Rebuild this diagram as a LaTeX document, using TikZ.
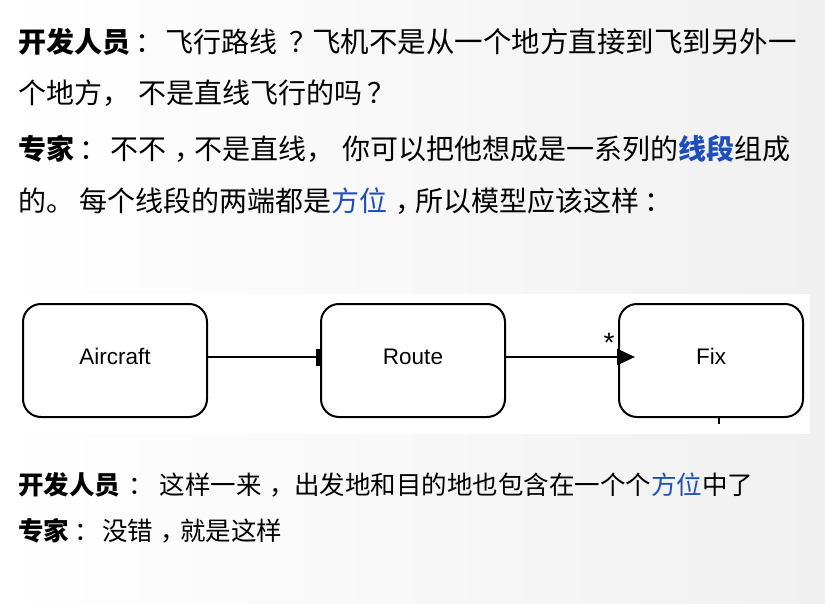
\documentclass[tikz,border=0pt]{standalone}
\usepackage{fontspec}
\setmainfont{Noto Sans CJK SC}
\newfontfamily\arialfont{Liberation Sans}
\usetikzlibrary{arrows.meta}
\definecolor{keyblue}{RGB}{30,78,190}
\definecolor{bgright}{RGB}{240,240,240}
\newcommand\ccolon{\makebox[1em][l]{\hspace{0.2em}：}}
\newcommand\ccomma{\makebox[1em][l]{\hspace{0.3em}，}}
\newcommand\cquest{\makebox[1em][l]{\hspace{0.2em}？}}
\tikzset{
  txt/.style={anchor=base west, inner sep=0pt, font=\fontsize{28}{28}\selectfont},
  txtsmall/.style={anchor=base west, inner sep=0pt, font=\fontsize{25.5}{25.5}\selectfont},
  umlbox/.style={draw=black, line width=2pt, rounded corners=18pt, fill=white,
    minimum width=184pt, minimum height=113pt, inner sep=0pt,
    text height=7pt, text depth=0pt, font=\arialfont\fontsize{22.5}{22.5}\selectfont},
  conn/.style={line width=2.6pt}
}
\begin{document}
\begin{tikzpicture}[x=1pt,y=-1pt]
\useasboundingbox (0,0) rectangle (825,604);
\shade[left color=white, right color=bgright] (0,0) rectangle (825,604);
\fill[white] (10,294) rectangle (810,434);

\node[txt] (l1) at (18,53) {\textbf{开发人员}\ccolon\hspace{7pt}飞行路线\hspace{7pt}\cquest{\fontsize{28.5}{28}\selectfont 飞机不是从一个地方直接到飞到另外一}};
\node[txt] (l2) at (18,104) {个地方，\hspace{8pt}不是直线飞行的吗\cquest};
\node[txt] (l3) at (18,160) {\textbf{专家}\ccolon\hspace{8pt}不不\ccomma 不是直线，\hspace{8pt}你可以把他想成是一系列的\textcolor{keyblue}{\textbf{线段}}组成};
\node[txt] (l4) at (18,212) {的。\hspace{5pt}每个线段的两端都是\textcolor{keyblue}{方位}\ccomma 所以模型应该这样\ccolon};
\node[txtsmall] (l5) at (18,494) {\textbf{开发人员}\hspace{3pt}\ccolon\hspace{11pt}这样一来\ccomma\hspace{7pt}出发地和目的地也包含在一个个\textcolor{keyblue}{方位}中了};
\node[txtsmall] (l6) at (18,540) {\textbf{专家}\ccolon\hspace{7.5pt}没错\ccomma\hspace{1.5pt}就是这样};

\node[umlbox] (aircraft) at (115,360.5) {Aircraft};
\node[umlbox] (route) at (413,360.5) {Route};
\node[umlbox] (fix) at (711,360.5) {Fix};

\draw[conn, -{Bar[width=17pt, line width=4pt]}] (aircraft.east |- 0,357) -- (route.west |- 0,357);
\draw[conn, -{Triangle[length=18pt, width=16pt]}] (route.east |- 0,357) -- ([xshift=17pt]fix.west |- 0,357);
\node[font=\arialfont\fontsize{28}{28}\selectfont, inner sep=0pt] (star) at (609,343) {*};
\coordinate (tickend) at ([xshift=8pt, yshift=-6pt]fix.south);
\draw[line width=2.5pt] ([xshift=8pt]fix.south) -- (tickend);
\end{tikzpicture}
\end{document}
